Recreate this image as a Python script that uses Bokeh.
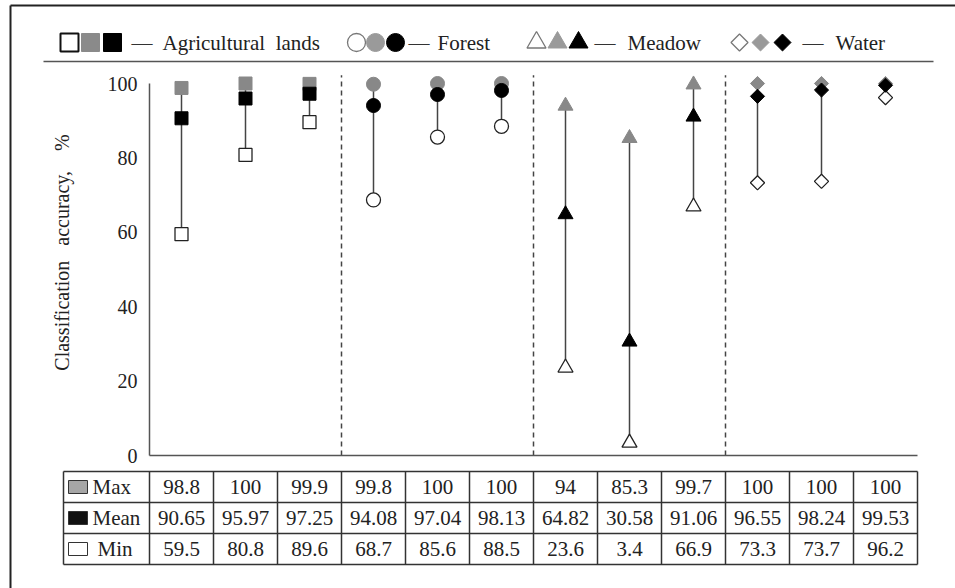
import numpy as np
from bokeh.plotting import figure
from bokeh.models import Range1d, LinearAxis, FixedTicker
from bokeh.core.properties import value
from bokeh.embed import file_html
from bokeh.resources import INLINE

# ---------------- data ----------------
classes = ["Agricultural lands", "Forest", "Meadow", "Water"]
per_class = 3
max_vals = [98.8, 100, 99.9, 99.8, 100, 100, 94, 85.3, 99.7, 100, 100, 100]
mean_vals = [90.65, 95.97, 97.25, 94.08, 97.04, 98.13, 64.82, 30.58, 91.06, 96.55, 98.24, 99.53]
min_vals = [59.5, 80.8, 89.6, 68.7, 85.6, 88.5, 23.6, 3.4, 66.9, 73.3, 73.7, 96.2]
row_names = ["Max", "Mean", "Min"]
y_ticks = [0, 20, 40, 60, 80, 100]
y_title = "Classification\u00a0\u00a0\u00a0accuracy,\u00a0\u00a0\u00a0\u00a0%"

# ---------------- layout / style ----------------
W, H = 955, 588
SX0, SY0 = 0, 0
X0_PX, PX_PER_CAT = 181, 64     # screen x of category 0, category spacing
Y0_PX, PX_PER_UNIT = 455, 3.72  # screen y of value 0, px per %
FONT = "Liberation Serif"
TXT = "#222222"

x_start = (SX0 - X0_PX) / PX_PER_CAT
x_end = (SX0 + W - X0_PX) / PX_PER_CAT
y_start = (Y0_PX - (SY0 + H)) / PX_PER_UNIT
y_end = (Y0_PX - SY0) / PX_PER_UNIT

p = figure(width=W, height=H, output_backend="svg", toolbar_location=None,
           title=None, x_axis_type=None, y_axis_type=None, min_border=0,
           x_range=Range1d(x_start, x_end), y_range=Range1d(y_start, y_end),
           outline_line_color=None, background_fill_color="white",
           border_fill_color="white")
p.extra_x_ranges = {"sx": Range1d(SX0, SX0 + W)}
p.extra_y_ranges = {"sy": Range1d(SY0 + H, SY0)}

n = len(max_vals)
idx = list(range(n))
marker_of = ["square", "circle", "triangle", "diamond"]

# ---------------- axes ----------------
yax = LinearAxis(fixed_location=-0.5, bounds=(0, 100),
                 ticker=FixedTicker(ticks=y_ticks),
                 major_tick_out=0, major_tick_in=0, minor_tick_out=0, minor_tick_in=0,
                 axis_line_color="#555555", axis_line_width=1.5,
                 major_label_text_font=FONT, major_label_text_font_size="20px",
                 major_label_text_color=TXT, major_label_standoff=12)
p.add_layout(yax, "left")
xax = LinearAxis(fixed_location=0, bounds=(-0.5, n - 0.5),
                 ticker=FixedTicker(ticks=[]),
                 major_tick_out=0, major_tick_in=0, minor_tick_out=0, minor_tick_in=0,
                 axis_line_color="#555555", axis_line_width=1.5,
                 major_label_text_font_size="0px")
p.add_layout(xax, "below")

p.text(x=[61], y=[252], text=[y_title], angle=np.pi / 2, x_range_name="sx", y_range_name="sy",
       text_font=value(FONT), text_font_size="20px", text_color=TXT,
       text_align="center", text_baseline="middle")

# ---------------- group separators ----------------
sep_x = [g * per_class - 0.5 for g in range(1, len(classes))]
p.segment(x0=sep_x, y0=[0] * len(sep_x), x1=sep_x, y1=[102.2] * len(sep_x),
          line_color="#444444", line_width=1.5, line_dash="5 4")

# ---------------- ranges & markers ----------------
p.segment(x0=idx, y0=min_vals, x1=idx, y1=max_vals, line_color="#444444", line_width=1.5)

size_of = {"square": 13, "circle": 14, "triangle": 15, "diamond": 10}


def draw(vals, fill, line, lw):
    for g, m in enumerate(marker_of):
        xs = idx[g * per_class:(g + 1) * per_class]
        ys = vals[g * per_class:(g + 1) * per_class]
        if m == "diamond":
            p.scatter(xs, ys, marker="square", angle=np.pi / 4, size=size_of[m],
                      fill_color=fill, line_color=line, line_width=lw)
        else:
            p.scatter(xs, ys, marker=m, size=size_of[m],
                      fill_color=fill, line_color=line, line_width=lw)


draw(min_vals, "white", "#222222", 1.3)
draw(max_vals, "#888888", "#888888", 1)
draw(mean_vals, "black", "black", 1)

# ---------------- legend (top) ----------------
leg = [("Agricultural lands", "square", [69, 90, 112], 131, 162),
       ("Forest", "circle", [356, 375, 395], 408, 437),
       ("Meadow", "triangle", [536, 557, 578], 594, 627),
       ("Water", "diamond", [739, 760, 782], 802, 835)]
leg_y = 42
leg_size = {"square": 18, "circle": 18, "triangle": 19, "diamond": 12}
for name, m, xs, dash_x, name_x in leg:
    white_line = "#111111" if m == "square" else "#777777"
    white_lw = 2 if m == "square" else 1.3
    styles = [("white", white_line, white_lw), ("#8a8a8a" if m == "square" else "#9a9a9a", None, 0),
              ("black", None, 0)]
    for sx, (fc, lc, lw) in zip(xs, styles):
        kw = dict(size=leg_size[m], fill_color=fc, line_color=lc if lc else fc,
                  line_width=lw if lw else 1, x_range_name="sx", y_range_name="sy")
        if m == "diamond":
            p.scatter([sx], [leg_y], marker="square", angle=np.pi / 4, **kw)
        else:
            p.scatter([sx], [leg_y], marker=m, **kw)
    p.text(x=[dash_x], y=[leg_y], text=["\u2014"], x_range_name="sx", y_range_name="sy",
           text_font=value(FONT), text_font_size="21px", text_color="#333333",
           text_align="left", text_baseline="middle")
    p.text(x=[name_x], y=[leg_y], text=[name.replace(" ", "\u00a0\u00a0")],
           x_range_name="sx", y_range_name="sy",
           text_font=value(FONT), text_font_size="21px", text_color=TXT,
           text_align="left", text_baseline="middle")

# legend underline and outer frame
p.segment(x0=[43], y0=[61], x1=[933], y1=[61], x_range_name="sx", y_range_name="sy",
          line_color="#555555", line_width=1.5)
p.segment(x0=[10, 10], y0=[5, 5], x1=[10, SX0 + W], y1=[SY0 + H, 5],
          x_range_name="sx", y_range_name="sy", line_color="#222222", line_width=2)

# ---------------- table ----------------
row_top = [471, 502, 533]
row_h = 31
tbl_left = -0.5 - 86 / PX_PER_CAT
rows = [max_vals, mean_vals, min_vals]
for r, vals in enumerate(rows):
    cy = row_top[r] + row_h / 2
    p.text(x=idx, y=[cy] * n, text=[f"{v:g}" for v in vals], y_range_name="sy",
           text_font=value(FONT), text_font_size="21px", text_color=TXT,
           text_align="center", text_baseline="middle")

h_lines_y = row_top + [row_top[-1] + row_h]
p.segment(x0=[tbl_left] * 4, y0=h_lines_y, x1=[n - 0.5] * 4, y1=h_lines_y,
          y_range_name="sy", line_color="#333333", line_width=1.5)
v_x = [tbl_left] + [k - 0.5 for k in range(n + 1)]
p.segment(x0=v_x, y0=[h_lines_y[0]] * len(v_x), x1=v_x, y1=[h_lines_y[-1]] * len(v_x),
          y_range_name="sy", line_color="#333333", line_width=1.5)

# first column: swatches + labels
sw_fill = ["#a6a6a6", "#111111", "white"]
label_x = [92, 92, 97]
for r, name in enumerate(row_names):
    cy = row_top[r] + row_h / 2
    p.rect(x=[77.5], y=[cy], width=19, height=13, x_range_name="sx", y_range_name="sy",
           fill_color=sw_fill[r], line_color="#333333", line_width=1)
    p.text(x=[label_x[r]], y=[cy], text=[name], x_range_name="sx", y_range_name="sy",
           text_font=value(FONT), text_font_size="21px", text_color=TXT,
           text_align="left", text_baseline="middle")

open("out.html", "w").write(file_html(p, INLINE))
